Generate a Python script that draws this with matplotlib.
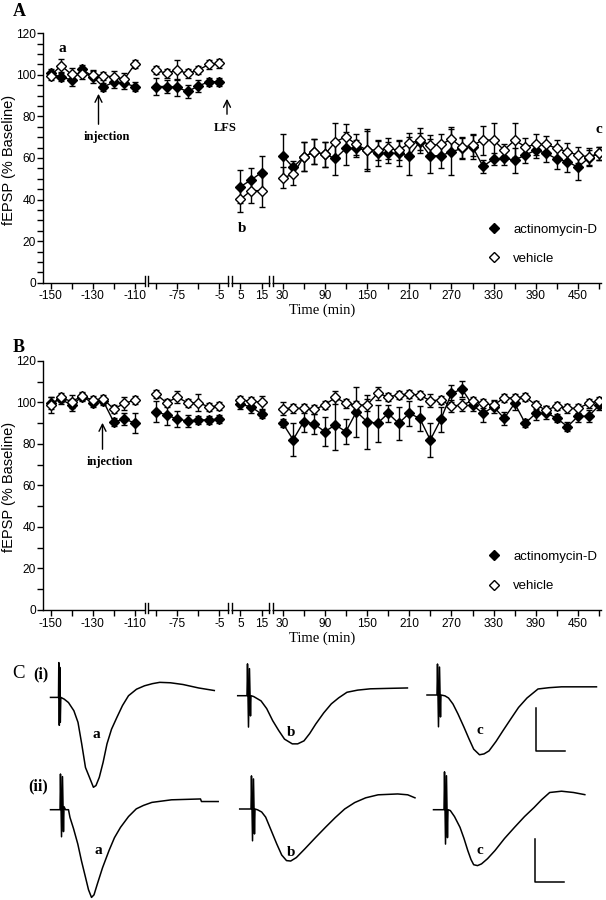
import numpy as np
import matplotlib
matplotlib.use("Agg")
import matplotlib.pyplot as plt
from matplotlib.lines import Line2D
from matplotlib.ticker import FixedLocator, MultipleLocator

# ---------------- data ----------------
# time points (min) of the four recording segments
t_pre1 = [-150, -145, -140, -135, -130, -125, -120, -115, -110]
t_pre2 = [-35, -30, -25, -20, -15, -10, -5]
t_post1 = [5, 10, 15]
t_post2 = list(range(30, 481, 15))

# Panel A  (actinomycin-D = filled, vehicle = open)
A_act_pre1 = [100.7, 98.9, 97.6, 102.7, 99.2, 94.2, 96.5, 96.0, 94.4]
A_act_pre1_e = [2, 2, 3, 2, 3, 2, 3, 3, 2]
A_veh_pre1 = [99.5, 104.5, 100.2, 100.2, 100.0, 99.6, 99.0, 98.0, 105.1]
A_veh_pre1_e = [2, 3, 3, 2, 2, 2, 3, 3, 2]
A_act_pre2 = [94.4, 94.4, 94.0, 92.0, 94.6, 96.7, 96.7]
A_act_pre2_e = [4, 3, 4, 3, 3, 2, 2]
A_veh_pre2 = [102.3, 100.7, 102.3, 100.7, 102.3, 105.0, 105.5]
A_veh_pre2_e = [2, 2, 5, 2, 2, 2, 2]
A_act_post1 = [46.2, 49.4, 53.0]
A_act_post1_e = [8, 6, 8]
A_veh_post1 = [40.1, 44.3, 44.3]
A_veh_post1_e = [6, 6, 8]
A_act_post2 = [61.1, 55.5, 60.6, 63.0, 61.7, 59.8, 64.6, 64.6, 63.8, 62.2,
               62.5, 62.2, 61.0, 67.8, 61.0, 61.1, 63.0, 64.6, 65.4, 56.0,
               59.5, 59.8, 59.0, 61.4, 63.8, 62.2, 59.5, 58.3, 55.5, 60.0, 62.2]
A_act_post2_e = [10.5, 3, 7, 6, 6, 8, 8, 4, 10, 6, 5, 6, 9, 4, 8, 6, 11, 5, 6,
                 3, 3, 3, 6, 4, 4, 4, 5, 5, 6, 4, 3]
A_veh_post2 = [50.5, 52.1, 60.6, 63.0, 61.7, 67.8, 70.2, 66.5, 63.8, 63.8,
               64.6, 63.8, 67.0, 68.6, 66.2, 66.5, 69.1, 65.1, 66.2, 68.6,
               68.6, 63.8, 68.6, 65.4, 66.5, 66.5, 64.6, 63.0, 61.4, 60.6, 62.2]
A_veh_post2_e = [5, 5, 7, 6, 6, 9, 6, 5, 9, 5, 5, 5, 5, 6, 5, 5, 6, 5, 5, 7,
                 8, 3, 8, 4, 5, 4, 4, 4, 4, 4, 3]

# Panel B
B_act_pre1 = [99.8, 101.4, 98.7, 102.7, 99.8, 100.6, 90.5, 92.0, 90.0]
B_act_pre1_e = [3, 2, 3, 2, 2, 2, 2, 3, 5]
B_veh_pre1 = [98.7, 102.4, 100.3, 103.0, 101.1, 101.6, 96.8, 99.5, 101.1]
B_veh_pre1_e = [4, 2, 3, 2, 2, 2, 2, 3, 2]
B_act_pre2 = [95.5, 93.9, 92.0, 91.0, 91.6, 91.5, 92.0]
B_act_pre2_e = [5, 5, 4, 3, 2, 2, 2]
B_veh_pre2 = [104.0, 99.8, 102.5, 99.8, 99.8, 97.9, 98.2]
B_veh_pre2_e = [2, 2, 3, 2, 4, 2, 2]
B_act_post1 = [99.0, 97.9, 94.4]
B_act_post1_e = [2, 3, 2]
B_veh_post1 = [101.1, 100.6, 100.0]
B_veh_post1_e = [2, 2, 3]
B_act_post2 = [90.0, 82.0, 90.7, 89.6, 85.9, 89.1, 85.9, 95.5, 90.7, 89.9,
               94.7, 89.9, 94.7, 92.3, 81.9, 91.8, 104.3, 106.4, 98.7, 94.7,
               97.9, 92.3, 99.5, 89.9, 94.7, 95.0, 92.3, 88.3, 93.3, 93.3, 98.5]
B_act_post2_e = [2, 8, 5, 5, 7, 12, 6, 12, 13, 9, 4, 8, 6, 6, 8, 6, 4, 4, 3,
                 4, 3, 3, 3, 2, 3, 3, 2, 2, 3, 3, 2]
B_veh_post2 = [97.0, 97.1, 97.1, 96.6, 98.7, 102.4, 99.5, 98.7, 98.7, 104.3,
               102.7, 103.5, 104.0, 103.5, 100.8, 101.1, 98.2, 98.7, 100.8, 99.5,
               98.7, 102.1, 102.1, 102.7, 98.7, 96.3, 98.2, 97.1, 97.1, 99.5, 100.8]
B_veh_post2_e = [3, 2, 2, 2, 2, 3, 2, 2, 3, 3, 2, 2, 2, 2, 3, 2, 3, 3, 2, 2,
                 2, 2, 2, 2, 2, 2, 2, 2, 2, 2, 2]

# x-axis ticks (slot positions on the broken axis) and their labels
tick_slots = [0, 2, 4, 6, 8, 10, 12, 14, 16, 18, 20] + list(range(22, 53, 2))
tick_labels = ["-150", "", "-130", "", "-110", "", "-75", "", "-5", "5", "15",
               "30", "", "90", "", "150", "", "210", "", "270", "", "330", "",
               "390", "", "450", ""]
break_slots = [9.1, 17.0, 20.9]

# Panel C: field potential traces (ms, mV) for time points a, b, c
ai_t = [0, 1.38, 1.43, 1.52, 1.6, 1.69, 1.78, 2.36, 3.1, 4.03, 4.74, 5.38, 6.03,
        6.72, 7.4, 7.84, 8.41, 9.07, 9.74, 10.52, 11.43, 12.41, 13.45, 14.83,
        16.21, 17.59, 18.83, 20.69, 22.84, 25.52, 28.24]
ai_v = [0, 0, 0.81, -0.65, 0.7, -0.58, 0, -0.04, -0.12, -0.31, -0.58, -1.08,
        -1.63, -1.86, -2.09, -2.05, -1.86, -1.51, -1.08, -0.74, -0.47, -0.19,
        0.04, 0.19, 0.27, 0.32, 0.35, 0.34, 0.3, 0.22, 0.16]
bi_t = [0, 1.6, 1.69, 1.86, 2.03, 2.21, 2.29, 2.76, 4.02, 5.0, 6.03, 7.07, 8.07,
        9.41, 10.34, 11.43, 12.41, 13.45, 14.83, 16.14, 17.41, 18.84, 20.69,
        22.86, 25.86, 29.26]
bi_v = [0, 0, 0.74, -0.73, 0.63, -0.47, 0, -0.02, -0.12, -0.3, -0.58, -0.81,
        -1.01, -1.12, -1.12, -1.05, -0.88, -0.66, -0.4, -0.19, -0.05, 0.08, 0.13,
        0.16, 0.17, 0.18]
ci_t = [0, 1.72, 1.81, 1.98, 2.16, 2.33, 2.41, 3.1, 3.71, 4.48, 5.34, 6.38, 7.24,
        8.05, 9.05, 9.83, 10.69, 11.9, 13.1, 14.48, 15.78, 17.24, 19.14, 21.03,
        23.19, 29.22]
ci_v = [0, 0, 0.72, -0.74, 0.65, -0.51, 0, -0.02, -0.07, -0.21, -0.44, -0.75,
        -1.02, -1.26, -1.39, -1.37, -1.3, -1.08, -0.83, -0.55, -0.29, -0.07, 0.14,
        0.17, 0.19, 0.19]
aii_t = [0, 1.64, 1.72, 1.9, 2.07, 2.24, 2.33, 2.59, 3.1, 3.36, 3.97, 4.71, 5.34,
         6.03, 6.55, 7.07, 7.5, 8.07, 8.97, 10.09, 11.03, 12.07, 13.45, 14.79,
         16.03, 17.48, 20.86, 25.86, 26.03, 28.91]
aii_v = [0, 0, 0.83, -0.63, 0.77, -0.51, 0.07, 0, 0, -0.18, -0.44, -0.8, -1.19,
         -1.57, -1.86, -2.04, -1.98, -1.73, -1.35, -0.95, -0.65, -0.41, -0.16,
         0.02, 0.1, 0.17, 0.23, 0.25, 0.19, 0.19]
bii_t = [0, 1.95, 2.03, 2.21, 2.38, 2.55, 2.64, 3.1, 3.79, 4.48, 5.34, 6.38, 7.24,
         8.07, 8.79, 9.76, 11.21, 13.1, 14.83, 16.47, 18.1, 19.83, 21.72, 23.86,
         27.24, 28.97, 30.22]
bii_v = [0, 0, 0.77, -0.74, 0.7, -0.58, 0, -0.02, -0.07, -0.19, -0.47, -0.81,
         -1.07, -1.2, -1.21, -1.13, -0.93, -0.66, -0.42, -0.2, 0, 0.15, 0.26, 0.33,
         0.35, 0.33, 0.26]
cii_t = [0, 1.81, 1.9, 2.07, 2.24, 2.41, 2.5, 2.9, 3.62, 4.57, 5.26, 5.91, 6.47,
         6.93, 7.59, 8.28, 9.31, 10.6, 12.24, 13.97, 15.69, 17.33, 18.62, 20.03,
         22.07, 24.14, 26.09]
cii_v = [0, 0, 0.88, -0.8, 0.79, -0.65, 0, -0.02, -0.16, -0.41, -0.67, -0.95,
         -1.16, -1.28, -1.3, -1.26, -1.14, -0.95, -0.67, -0.41, -0.16, 0.05, 0.23,
         0.4, 0.43, 0.4, 0.35]
scale_ms = 5
scale_mV = 1

# ---------------- layout helpers ----------------
W, H = 606, 900
fig = plt.figure(figsize=(W / 100, H / 100), dpi=100)
SANS = ["Liberation Sans", "DejaVu Sans"]
SERIF = ["Liberation Serif", "DejaVu Serif"]
plt.rcParams["font.family"] = SANS


def fx(px):
    return px / W


def fy(py):
    return 1 - py / H


def slot(t, seg):
    if seg == 0:
        return (t + 150) / 5.0
    if seg == 1:
        return 10 + (t + 35) / 5.0
    if seg == 2:
        return 18 + (t - 5) / 5.0
    return 22 + (t - 30) / 15.0


segments = [t_pre1, t_pre2, t_post1, t_post2]
XL, XR = 43.3, 600.5
U0, DU = 50.5, 10.55
xlim = ((XL - U0) / DU, (XR - U0) / DU)


def make_panel(top_px, bot_px, act, veh, minor_step):
    ax = fig.add_axes([fx(XL), fy(bot_px), fx(XR) - fx(XL), (bot_px - top_px) / H])
    for (vals, errs), (vv, ve), seg in zip(act, veh, range(4)):
        xs = [slot(t, seg) for t in segments[seg]]
        ax.errorbar(xs, vals, yerr=errs, fmt="-D", color="black", ms=5.5,
                    mfc="black", mec="black", lw=1.0, elinewidth=1.0,
                    capsize=2.2, capthick=1.0, zorder=3)
        ax.errorbar(xs, vv, yerr=ve, fmt="-D", color="black", ms=5.5,
                    mfc="white", mec="black", mew=1.0, lw=1.0, elinewidth=1.0,
                    capsize=2.2, capthick=1.0, zorder=4)
    ax.set_xlim(*xlim)
    ax.set_ylim(0, 120)
    for s in ("top", "right"):
        ax.spines[s].set_visible(False)
    for s in ("left", "bottom"):
        ax.spines[s].set_linewidth(1.0)
    ax.yaxis.set_major_locator(FixedLocator([0, 20, 40, 60, 80, 100, 120]))
    ax.yaxis.set_minor_locator(MultipleLocator(minor_step))
    ax.set_xticks(tick_slots)
    ax.set_xticklabels(tick_labels)
    ax.tick_params(axis="both", which="both", direction="out", width=1.0,
                   labelsize=8.6, pad=1.5)
    ax.tick_params(axis="y", which="major", length=4)
    ax.tick_params(axis="y", which="minor", length=4)
    ax.tick_params(axis="x", length=4)
    ax.set_xlabel("Time (min)", fontsize=10.5, family=SERIF, labelpad=1)
    fig.text(fx(9.5), fy((top_px + bot_px) / 2 + 2), "fEPSP (% Baseline)",
             rotation=90, ha="center", va="center", fontsize=10.5)
    # axis-break marks
    tr = ax.get_xaxis_transform()
    hh = 7.0 / (bot_px - top_px)
    for b in break_slots:
        ax.plot([b - 0.12, b + 0.12], [0, 0], color="white", lw=2.5,
                transform=tr, clip_on=False, zorder=5, solid_capstyle="butt")
        for d in (-0.16, 0.16):
            ax.plot([b + d, b + d], [-hh * 0.45, hh], color="black", lw=1.0,
                    transform=tr, clip_on=False, zorder=6)
    # legend
    handles = [Line2D([], [], ls="none", marker="D", ms=5.5, mfc="black", mec="black"),
               Line2D([], [], ls="none", marker="D", ms=5.5, mfc="white", mec="black")]
    ax.legend(handles, ["actinomycin-D", "vehicle"], frameon=False, fontsize=9.5,
              loc="upper left", bbox_to_anchor=(fx(487), fy(top_px + 190)),
              bbox_transform=fig.transFigure, borderpad=0, handlelength=1.0,
              handletextpad=1.0, labelspacing=1.3, borderaxespad=0)
    return ax


axA = make_panel(33.3, 282.7,
                 [(A_act_pre1, A_act_pre1_e), (A_act_pre2, A_act_pre2_e),
                  (A_act_post1, A_act_post1_e), (A_act_post2, A_act_post2_e)],
                 [(A_veh_pre1, A_veh_pre1_e), (A_veh_pre2, A_veh_pre2_e),
                  (A_veh_post1, A_veh_post1_e), (A_veh_post2, A_veh_post2_e)], 5)
axB = make_panel(360.8, 610.0,
                 [(B_act_pre1, B_act_pre1_e), (B_act_pre2, B_act_pre2_e),
                  (B_act_post1, B_act_post1_e), (B_act_post2, B_act_post2_e)],
                 [(B_veh_pre1, B_veh_pre1_e), (B_veh_pre2, B_veh_pre2_e),
                  (B_veh_post1, B_veh_post1_e), (B_veh_post2, B_veh_post2_e)], 10)

bold_serif = dict(family=SERIF, fontweight="bold")

# annotations panels A and B
fig.text(fx(13), fy(12), "A", fontsize=13, va="center", ha="left", **bold_serif)
fig.text(fx(62), fy(48), "a", fontsize=11, va="center", ha="center", **bold_serif)
fig.text(fx(107), fy(137), "injection", fontsize=9, va="center", ha="center", **bold_serif)
fig.text(fx(225), fy(128), "LFS", fontsize=9, va="center", ha="center", **bold_serif)
fig.text(fx(242), fy(228), "b", fontsize=11, va="center", ha="center", **bold_serif)
fig.text(fx(599), fy(130), "c", fontsize=11, va="center", ha="center", **bold_serif)
fig.text(fx(13), fy(347), "B", fontsize=13, va="center", ha="left", **bold_serif)
fig.text(fx(110), fy(462), "injection", fontsize=9, va="center", ha="center", **bold_serif)

arrow = dict(arrowstyle="->,head_length=0.5,head_width=0.25", color="black", lw=1.0)
fig_ann = fig.add_axes([0, 0, 1, 1], facecolor="none")
fig_ann.set_xlim(0, W)
fig_ann.set_ylim(H, 0)
fig_ann.axis("off")
fig_ann.annotate("", xy=(98.5, 91), xytext=(98.5, 127), arrowprops=arrow)
fig_ann.annotate("", xy=(227, 96), xytext=(227, 117), arrowprops=arrow)
fig_ann.annotate("", xy=(102.5, 420), xytext=(102.5, 452), arrowprops=arrow)

# ---------------- panel C ----------------
PX_MS = 5.8
PX_MV = 43.0
traces = [(ai_t, ai_v, 50.5, 697.4), (bi_t, bi_v, 237.7, 695.7),
          (ci_t, ci_v, 427.0, 695.0), (aii_t, aii_v, 50.5, 809.7),
          (bii_t, bii_v, 239.7, 809.0), (cii_t, cii_v, 433.5, 809.7)]
for tt, vv, x0, y0 in traces:
    xs = x0 + np.array(tt) * PX_MS
    ys = y0 - np.array(vv) * PX_MV
    fig_ann.plot(xs, ys, color="black", lw=1.1, solid_joinstyle="round")

for x0, y0 in [(536.0, 750.7), (535.3, 882.4)]:
    fig_ann.plot([x0, x0, x0 + scale_ms * PX_MS],
                 [y0 - scale_mV * PX_MV, y0, y0], color="black", lw=1.1)

fig.text(fx(12), fy(674), "C", fontsize=13.5, va="center", ha="left", family=SERIF)
fig.text(fx(33), fy(674), "(i)", fontsize=11.5, va="center", ha="left", **bold_serif)
fig.text(fx(28), fy(786), "(ii)", fontsize=11.5, va="center", ha="left", **bold_serif)
for lab, x, y in [("a", 96, 735), ("b", 291, 732), ("c", 480, 731),
                  ("a", 98, 851), ("b", 291, 852), ("c", 480, 851)]:
    fig.text(fx(x), fy(y), lab, fontsize=11, va="center", ha="center", **bold_serif)

fig.savefig("out.png", dpi=100)
